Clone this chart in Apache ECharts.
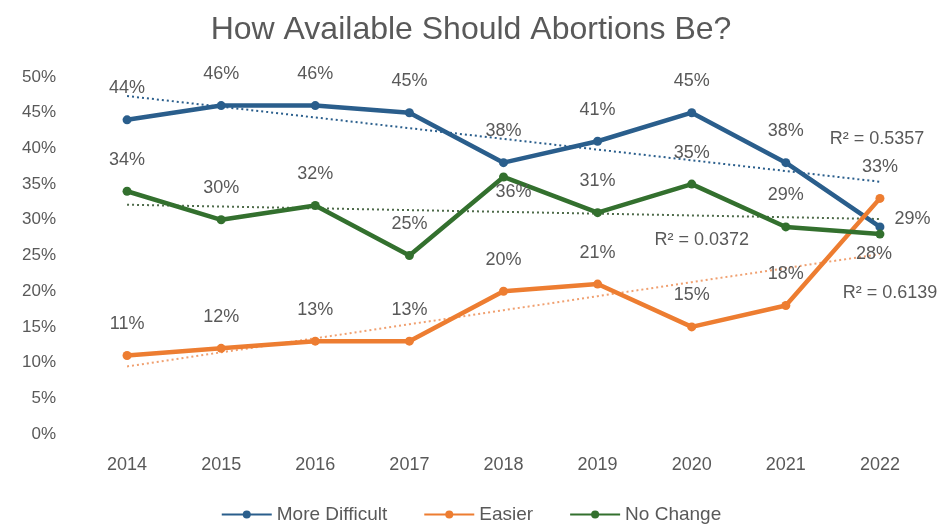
<!DOCTYPE html>
<html>
<head>
<meta charset="utf-8">
<script src="https://cdn.jsdelivr.net/npm/echarts@6/dist/echarts.min.js"></script>
<style>
  html, body { margin: 0; padding: 0; background: #fff; }
  #chart { width: 942px; height: 529px; }
</style>
</head>
<body>
<div id="chart"></div>
<script>
// Survey years and the share of respondents per answer (percent)
const years = ['2014', '2015', '2016', '2017', '2018', '2019', '2020', '2021', '2022'];
const moreDifficult = [44, 46, 46, 45, 38, 41, 45, 38, 29];
const easier = [11, 12, 13, 13, 20, 21, 15, 18, 33];
const noChange = [34, 30, 32, 25, 36, 31, 35, 29, 28];
const yTicks = [0, 5, 10, 15, 20, 25, 30, 35, 40, 45, 50];

const FONT = '"Liberation Sans", Arial, sans-serif';
const TEXT = '#595959';
const BLUE = '#2A5E8C';
const ORANGE = '#ED7D31';
const GREEN = '#33702E';

// Least-squares linear fit over x = 1..n, with its coefficient of determination
function linearFit(ys) {
  const n = ys.length;
  const xs = ys.map((_, i) => i + 1);
  const mx = xs.reduce((a, b) => a + b, 0) / n;
  const my = ys.reduce((a, b) => a + b, 0) / n;
  let sxy = 0, sxx = 0, syy = 0;
  for (let i = 0; i < n; i++) {
    sxy += (xs[i] - mx) * (ys[i] - my);
    sxx += (xs[i] - mx) * (xs[i] - mx);
    syy += (ys[i] - my) * (ys[i] - my);
  }
  const slope = sxy / sxx;
  const icpt = my - slope * mx;
  return {
    values: xs.map(x => icpt + slope * x),
    r2: (sxy * sxy) / (sxx * syy)
  };
}

const baseLabel = {
  show: true,
  position: 'top',
  distance: 18,
  color: TEXT,
  fontFamily: FONT,
  fontSize: 18,
  formatter: p => p.value + '%'
};

function dataWithLabels(values, overrides) {
  return values.map((v, i) => overrides[i] ? { value: v, label: overrides[i] } : v);
}

function lineSeries(name, values, color, overrides) {
  return {
    name: name,
    type: 'line',
    data: dataWithLabels(values, overrides || {}),
    symbol: 'circle',
    symbolSize: 9,
    color: color,
    lineStyle: { width: 4.5, color: color },
    itemStyle: { color: color },
    label: baseLabel,
    z: 3
  };
}

// Dotted linear trendline; the R² note hangs off one of its points
function trendSeries(name, values, color, labelIndex, labelOpts) {
  const fit = linearFit(values);
  const txt = 'R\u00B2 = ' + fit.r2.toFixed(4);
  return {
    name: name,
    type: 'line',
    data: fit.values.map((v, i) => i === labelIndex
      ? { value: v, label: Object.assign({ show: true, formatter: txt, color: TEXT, fontFamily: FONT, fontSize: 18 }, labelOpts) }
      : v),
    symbol: 'circle',
    symbolSize: 0,
    showSymbol: true,
    itemStyle: { color: 'rgba(0,0,0,0)' },
    lineStyle: { width: 2, type: [2, 3], color: color },
    label: { show: false },
    silent: true,
    z: 2
  };
}

const chart = echarts.init(document.getElementById('chart'), null, { renderer: 'canvas' });

chart.setOption({
  backgroundColor: '#ffffff',
  animation: false,
  title: {
    text: 'How Available Should Abortions Be?',
    left: 'center',
    top: 9,
    textStyle: { fontFamily: FONT, fontSize: 32, fontWeight: 'normal', color: TEXT }
  },
  legend: {
    data: ['More Difficult', 'Easier', 'No Change'],
    bottom: 0,
    left: 'center',
    itemWidth: 50,
    itemHeight: 10,
    itemGap: 36,
    textStyle: { fontFamily: FONT, fontSize: 19, color: TEXT }
  },
  grid: { left: 80, right: 15, top: 77, bottom: 95, containLabel: false },
  xAxis: {
    type: 'category',
    data: years,
    boundaryGap: true,
    axisLine: { show: false },
    axisTick: { show: false },
    axisLabel: { color: TEXT, fontFamily: FONT, fontSize: 18, margin: 22 }
  },
  yAxis: {
    type: 'value',
    min: yTicks[0],
    max: yTicks[yTicks.length - 1],
    interval: yTicks[1] - yTicks[0],
    splitLine: { show: false },
    axisLine: { show: false },
    axisTick: { show: false },
    axisLabel: { color: TEXT, fontFamily: FONT, fontSize: 17, margin: 24, formatter: '{value}%' }
  },
  series: [
    trendSeries('More Difficult trend', moreDifficult, BLUE, 8, { position: 'top', distance: 0, offset: [-3, -34] }),
    trendSeries('Easier trend', easier, '#F0A070', 8, { position: 'bottom', distance: 0, offset: [10, 30] }),
    trendSeries('No Change trend', noChange, '#4E6B4A', 6, { position: 'bottom', distance: 0, offset: [10, 16] }),
    lineSeries('More Difficult', moreDifficult, BLUE, {
      8: Object.assign({}, baseLabel, { position: 'right', distance: 10, offset: [0, -8] })
    }),
    lineSeries('Easier', easier, ORANGE),
    lineSeries('No Change', noChange, GREEN, {
      4: Object.assign({}, baseLabel, { position: 'bottom', distance: 2, offset: [10, 0] }),
      8: Object.assign({}, baseLabel, { position: 'bottom', distance: 6, offset: [-6, 0] })
    })
  ]
});
</script>
</body>
</html>
